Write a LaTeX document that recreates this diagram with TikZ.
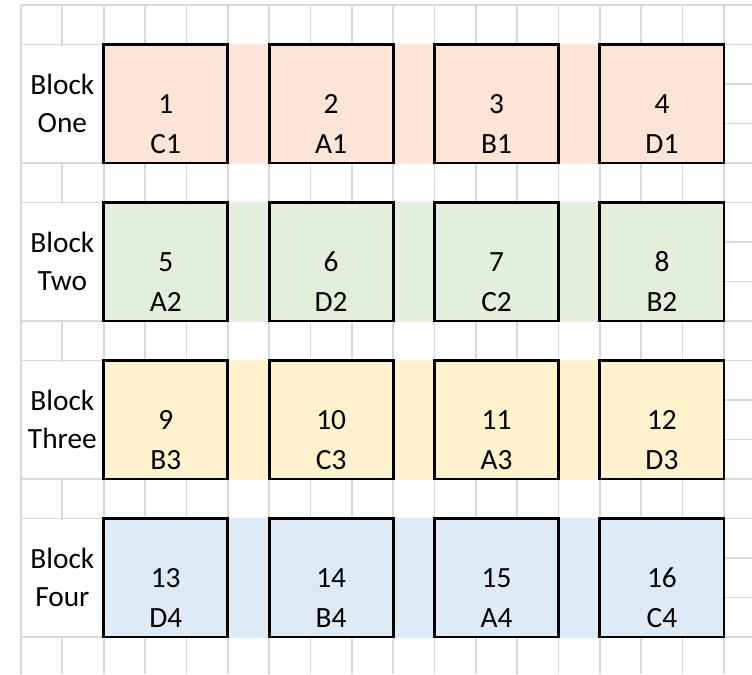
\documentclass[tikz,border=0pt]{standalone}
\usepackage{fontspec}
\setmainfont{Carlito}
\usetikzlibrary{positioning}
\definecolor{blkpink}{HTML}{FCE4D6}
\definecolor{blkgreen}{HTML}{E2EFDA}
\definecolor{blkyellow}{HTML}{FFF2CC}
\definecolor{blkblue}{HTML}{DDEBF7}
\definecolor{gridgrey}{HTML}{D9D9D9}

\begin{document}
\begin{tikzpicture}[
    x=31.0125pt, y=-29.625pt,
    gridline/.style={draw=gridgrey, line width=1.3pt},
    plot/.style={draw, line width=2.2pt, minimum width=93.04pt,
                 minimum height=88.875pt, inner sep=0pt, align=center,
                 text height=74.5pt, text depth=0pt,
                 font=\fontsize{22}{29.6}\selectfont},
    blocklabel/.style={inner sep=0pt, align=center, minimum height=88.875pt,
                 text height=43.5pt, text depth=0pt,
                 font=\fontsize{22}{29}\selectfont}
]
    \useasboundingbox (-0.508,-0.127) rectangle (17.678,16.937);

    % sheet grid
    \foreach \c in {0,...,17} \draw[gridline] (\c,0) -- (\c,16.94);
    \foreach \r in {0,...,16} \draw[gridline] (0,\r) -- (17.68,\r);

    % block bands
    \fill[blkpink]   (2,0.975)  rectangle (17,4.025);
    \fill[blkgreen]  (2,4.975)  rectangle (17,8.025);
    \fill[blkyellow] (2,8.975)  rectangle (17,12.025);
    \fill[blkblue]   (2,12.975) rectangle (17,16.025);
    \fill[white] (0.025,1.025)  rectangle (1.975,3.975);
    \fill[white] (0.025,5.025)  rectangle (1.975,7.975);
    \fill[white] (0.025,9.025)  rectangle (1.975,11.975);
    \fill[white] (0.025,13.025) rectangle (1.975,15.975);

    \node[blocklabel] (B1) at (1,2.5)  {Block\\One};
    \node[blocklabel] (B2) at (1,6.5)  {Block\\Two};
    \node[blocklabel] (B3) at (1,10.5) {Block\\Three};
    \node[blocklabel] (B4) at (1,14.5) {Block\\Four};

    \node[plot, fill=blkpink] (P1)  at (3.5,2.5)   {1\\C1};
    \node[plot, fill=blkpink] (P2)  at (7.5,2.5)   {2\\A1};
    \node[plot, fill=blkpink] (P3)  at (11.5,2.5)  {3\\B1};
    \node[plot, fill=blkpink] (P4)  at (15.5,2.5)  {4\\D1};

    \node[plot, fill=blkgreen] (P5)  at (3.5,6.5)  {5\\A2};
    \node[plot, fill=blkgreen] (P6)  at (7.5,6.5)  {6\\D2};
    \node[plot, fill=blkgreen] (P7)  at (11.5,6.5) {7\\C2};
    \node[plot, fill=blkgreen] (P8)  at (15.5,6.5) {8\\B2};

    \node[plot, fill=blkyellow] (P9)  at (3.5,10.5)  {9\\B3};
    \node[plot, fill=blkyellow] (P10) at (7.5,10.5)  {10\\C3};
    \node[plot, fill=blkyellow] (P11) at (11.5,10.5) {11\\A3};
    \node[plot, fill=blkyellow] (P12) at (15.5,10.5) {12\\D3};

    \node[plot, fill=blkblue] (P13) at (3.5,14.5)  {13\\D4};
    \node[plot, fill=blkblue] (P14) at (7.5,14.5)  {14\\B4};
    \node[plot, fill=blkblue] (P15) at (11.5,14.5) {15\\A4};
    \node[plot, fill=blkblue] (P16) at (15.5,14.5) {16\\C4};
\end{tikzpicture}
\end{document}
